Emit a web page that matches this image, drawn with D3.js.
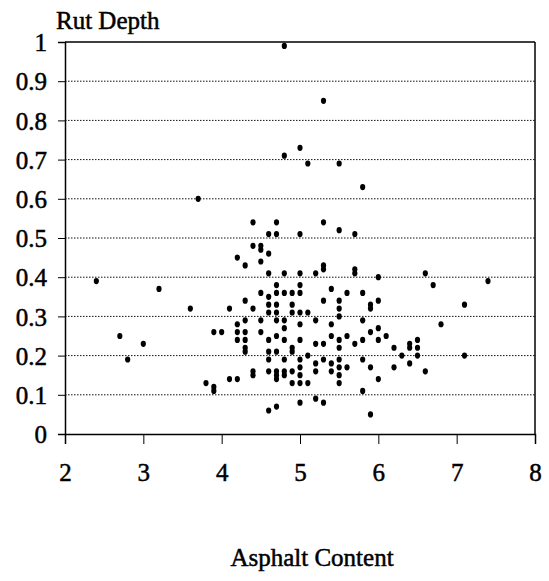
<!DOCTYPE html>
<html>
<head>
<meta charset="utf-8">
<script src="https://cdn.jsdelivr.net/npm/d3@7"></script>
<style>
  body { margin: 0; background: #fff; }
  text { font-family: "Liberation Serif", "Times New Roman", serif; fill: #000; stroke: #000; stroke-width: 0.5px; }
</style>
</head>
<body>
<div id="chart"></div>
<script>
// asphalt content levels and the rut depths measured at each level
const asphaltLevels = [2.4, 2.7, 2.8, 3.0, 3.2, 3.6, 3.7, 3.8, 3.9, 4.0,
  4.1, 4.2, 4.3, 4.4, 4.5, 4.6, 4.7, 4.8, 4.9, 5.0,
  5.1, 5.2, 5.3, 5.4, 5.5, 5.6, 5.7, 5.8, 5.9, 6.0,
  6.1, 6.2, 6.3, 6.4, 6.5, 6.6, 6.7, 6.8, 7.1, 7.4];
const rutByLevel = [
  [0.39], [0.25], [0.19], [0.23], [0.37], [0.32], [0.60], [0.13],
  [0.26, 0.12, 0.11], [0.26],
  [0.32, 0.14],
  [0.45, 0.28, 0.26, 0.24, 0.14],
  [0.43, 0.34, 0.29, 0.26, 0.24, 0.22, 0.21],
  [0.54, 0.48, 0.32, 0.16, 0.15],
  [0.48, 0.47, 0.44, 0.36, 0.29, 0.26],
  [0.51, 0.46, 0.41, 0.35, 0.33, 0.31, 0.24, 0.21, 0.19, 0.16, 0.06],
  [0.54, 0.51, 0.38, 0.36, 0.33, 0.31, 0.29, 0.25, 0.21, 0.16, 0.15, 0.14, 0.07],
  [0.99, 0.71, 0.41, 0.36, 0.29, 0.27, 0.24, 0.19, 0.16, 0.15],
  [0.36, 0.33, 0.31, 0.22, 0.21, 0.16, 0.13],
  [0.73, 0.51, 0.41, 0.38, 0.36, 0.31, 0.28, 0.24, 0.19, 0.17, 0.15, 0.13, 0.08],
  [0.69, 0.31, 0.20, 0.13],
  [0.41, 0.29, 0.23, 0.18, 0.16, 0.09],
  [0.85, 0.54, 0.43, 0.42, 0.34, 0.23, 0.19, 0.08],
  [0.37, 0.28, 0.25, 0.18, 0.16],
  [0.69, 0.52, 0.34, 0.32, 0.30, 0.24, 0.22, 0.19, 0.17, 0.15, 0.13],
  [0.36, 0.25, 0.17],
  [0.51, 0.42, 0.41, 0.23],
  [0.63, 0.36, 0.29, 0.24, 0.19, 0.11],
  [0.33, 0.32, 0.26, 0.17, 0.05],
  [0.40, 0.34, 0.27, 0.24, 0.14],
  [0.25], [0.22, 0.17], [0.20], [0.23, 0.22, 0.18], [0.24, 0.22, 0.20],
  [0.41, 0.16], [0.38], [0.28], [0.33, 0.20], [0.39]
];
const xTicks = [2, 3, 4, 5, 6, 7, 8];
const yTicks = [0, 0.1, 0.2, 0.3, 0.4, 0.5, 0.6, 0.7, 0.8, 0.9, 1];

const W = 549, H = 581;
const margin = { top: 42, right: 14, bottom: 147, left: 65 };
const width = W - margin.left - margin.right;
const height = H - margin.top - margin.bottom;

// flatten into points
const points = [];
asphaltLevels.forEach((a, i) => rutByLevel[i].forEach(r => points.push({ a, r })));

const svg = d3.select("#chart").append("svg")
  .attr("width", W).attr("height", H);
const g = svg.append("g").attr("transform", `translate(${margin.left},${margin.top})`);

const x = d3.scaleLinear().domain([2, 8]).range([0, width]);
const y = d3.scaleLinear().domain([0, 1]).range([height, 0]);

// dotted gridlines
g.append("g")
  .selectAll("line")
  .data(yTicks.filter(t => t > 0 && t < 1))
  .join("line")
  .attr("x1", 0).attr("x2", width)
  .attr("y1", d => y(d)).attr("y2", d => y(d))
  .attr("stroke", "#111")
  .attr("stroke-width", 1)
  .attr("stroke-dasharray", "1.5,1.5");

// box on top and right
g.append("line").attr("x1", 0).attr("x2", width).attr("y1", 0).attr("y2", 0)
  .attr("stroke", "#000").attr("stroke-width", 1.5);
g.append("line").attr("x1", width).attr("x2", width).attr("y1", 0).attr("y2", height)
  .attr("stroke", "#000").attr("stroke-width", 1.5);

// y axis
const yAxis = g.append("g")
  .call(d3.axisLeft(y).tickValues(yTicks).tickSize(7).tickPadding(11)
    .tickFormat(d => d === 0 || d === 1 ? d3.format("d")(d) : d3.format(".1f")(d)));
yAxis.select(".domain").attr("stroke-width", 1.5);
yAxis.selectAll("text").style("font-size", "25px").attr("dy", "0.35em");

// x axis
const xAxis = g.append("g")
  .attr("transform", `translate(0,${height})`)
  .call(d3.axisBottom(x).tickValues(xTicks).tickSize(10).tickPadding(19).tickFormat(d3.format("d")));
xAxis.select(".domain").attr("stroke-width", 1.5);
xAxis.selectAll("text").style("font-size", "25px");

// points
g.append("g")
  .selectAll("ellipse")
  .data(points)
  .join("ellipse")
  .attr("cx", d => x(d.a))
  .attr("cy", d => y(d.r))
  .attr("rx", 2.6)
  .attr("ry", 3.1)
  .attr("fill", "#000");

// titles
svg.append("text")
  .attr("x", 56).attr("y", 29)
  .style("font-size", "25px")
  .text("Rut Depth");

svg.append("text")
  .attr("x", 312).attr("y", 566)
  .attr("text-anchor", "middle")
  .style("font-size", "25px")
  .text("Asphalt Content");
</script>
</body>
</html>
